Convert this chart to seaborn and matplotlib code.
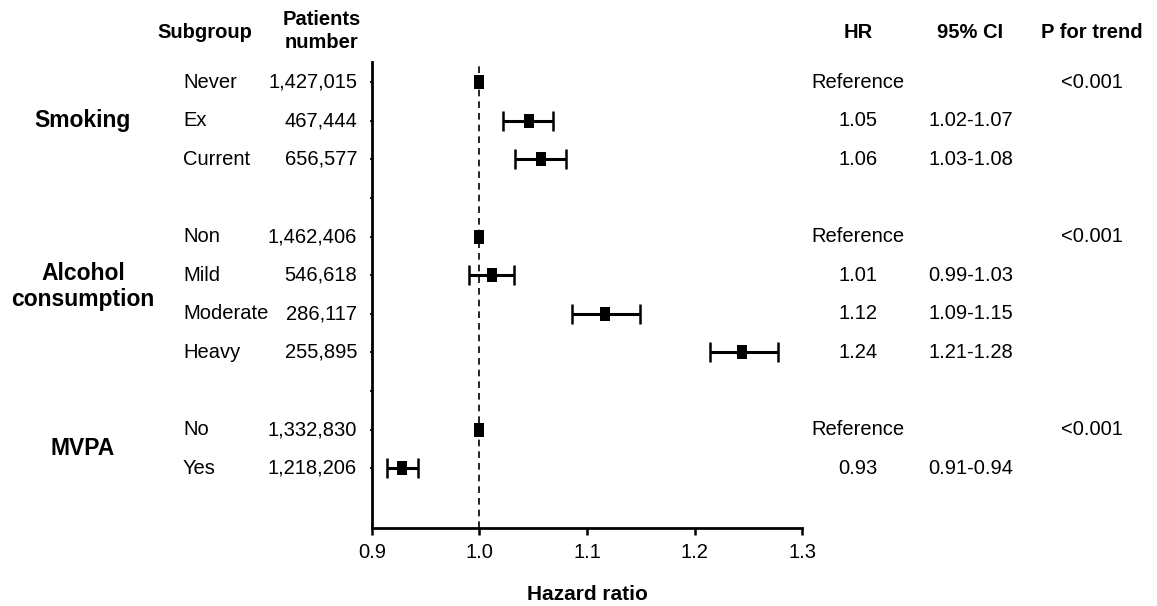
import numpy as np
import pandas as pd
import matplotlib
matplotlib.use("Agg")
import matplotlib.pyplot as plt
import matplotlib.transforms as mtransforms
import seaborn as sns

# 数据
groups = ["Smoking", "Alcohol\nconsumption", "MVPA"]
group_rows = [1, 5.3, 9.5]
subgroups = ["Never", "Ex", "Current", "Non", "Mild", "Moderate", "Heavy", "No", "Yes"]
rows = [0, 1, 2, 4, 5, 6, 7, 9, 10]
patients = ["1,427,015", "467,444", "656,577", "1,462,406", "546,618", "286,117",
            "255,895", "1,332,830", "1,218,206"]
hr = [1.00, 1.046, 1.057, 1.00, 1.012, 1.117, 1.244, 1.00, 0.928]
ci_low = [np.nan, 1.022, 1.033, np.nan, 0.990, 1.086, 1.214, np.nan, 0.914]
ci_high = [np.nan, 1.068, 1.080, np.nan, 1.032, 1.149, 1.278, np.nan, 0.943]
hr_text = ["Reference", "1.05", "1.06", "Reference", "1.01", "1.12", "1.24", "Reference", "0.93"]
ci_text = ["", "1.02-1.07", "1.03-1.08", "", "0.99-1.03", "1.09-1.15", "1.21-1.28", "", "0.91-0.94"]
p_text = ["<0.001", "", "", "<0.001", "", "", "", "<0.001", ""]
xticks = [0.9, 1.0, 1.1, 1.2, 1.3]

df = pd.DataFrame({"row": rows, "hr": hr, "lo": ci_low, "hi": ci_high})

sns.set_theme(style="ticks")
plt.rcParams['font.family'] = ['Liberation Sans', 'DejaVu Sans']
plt.rcParams['text.color'] = 'black'
plt.rcParams['axes.labelcolor'] = 'black'
plt.rcParams['xtick.color'] = 'black'
plt.rcParams['ytick.color'] = 'black'

fig = plt.figure(figsize=(11.57, 6.06), dpi=100)
ax = fig.add_axes([0.3215, 0.1287, 0.6932 - 0.3215, 0.8977 - 0.1287])

# 置信区间
ci = df.dropna()
ax.errorbar(ci["hr"], ci["row"], xerr=[ci["hr"] - ci["lo"], ci["hi"] - ci["hr"]],
            fmt="none", ecolor="black", elinewidth=2.2, capsize=7, capthick=1.8, zorder=2)

# 点估计（方块）
box = [(-0.33, -0.5), (0.33, -0.5), (0.33, 0.5), (-0.33, 0.5), (-0.33, -0.5)]
sns.scatterplot(data=df, x="hr", y="row", marker=box, s=115, color="black",
                edgecolor="black", linewidth=0, ax=ax, zorder=3, legend=False)

ax.axvline(1.0, color="black", linestyle=(0, (4, 3)), linewidth=1.2, zorder=1)

ax.set_xlim(0.9, 1.3)
ax.set_ylim(11.55, -0.52)
ax.set_xticks(xticks)
ax.set_xticklabels([f"{t:.1f}" for t in xticks], fontsize=14.5)
ax.set_yticks(list(range(0, 11)))
ax.set_yticklabels([])
ax.tick_params(axis="y", length=1.5, width=1.2)
ax.tick_params(axis="x", length=5, width=1.8, pad=6)
ax.set_xlabel("Hazard ratio", fontsize=15, fontweight="bold", labelpad=16)
ax.set_ylabel("")
for side in ["top", "right"]:
    ax.spines[side].set_visible(False)
for side in ["left", "bottom"]:
    ax.spines[side].set_linewidth(2)
    ax.spines[side].set_color("black")

tr = mtransforms.blended_transform_factory(fig.transFigure, ax.transData)

# 表头
hy = 1 - 32 / 606
fig.text(205 / 1157, hy, "Subgroup", ha="center", va="center", fontsize=14.5, fontweight="bold")
fig.text(322 / 1157, 1 - 31 / 606, "Patients\nnumber", ha="center", va="center", fontsize=14.5,
         fontweight="bold", linespacing=1.3)
fig.text(858 / 1157, hy, "HR", ha="center", va="center", fontsize=14.5, fontweight="bold")
fig.text(970 / 1157, hy, "95% CI", ha="center", va="center", fontsize=14.5, fontweight="bold")
fig.text(1092 / 1157, hy, "P for trend", ha="center", va="center", fontsize=14.5, fontweight="bold")

for g, r in zip(groups, group_rows):
    ax.text(83 / 1157, r, g, transform=tr, ha="center", va="center", fontsize=16.5,
            fontweight="bold", linespacing=1.15)

for i, r in enumerate(rows):
    ax.text(183 / 1157, r, subgroups[i], transform=tr, ha="left", va="center", fontsize=14.5)
    ax.text(357 / 1157, r, patients[i], transform=tr, ha="right", va="center", fontsize=14.5)
    ax.text(858 / 1157, r, hr_text[i], transform=tr, ha="center", va="center", fontsize=14.5)
    ax.text(971 / 1157, r, ci_text[i], transform=tr, ha="center", va="center", fontsize=14.5)
    ax.text(1092 / 1157, r, p_text[i], transform=tr, ha="center", va="center", fontsize=14.5)

fig.savefig("out.png", dpi=100, facecolor="white")
